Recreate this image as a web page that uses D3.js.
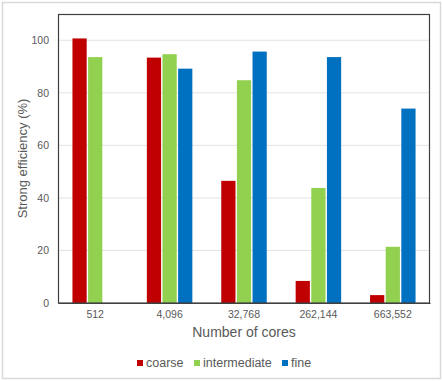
<!DOCTYPE html>
<html>
<head>
<meta charset="utf-8">
<script src="https://cdn.jsdelivr.net/npm/d3@7"></script>
<style>
	body { margin: 0; background: #fff; }
	text { font-family: 'Liberation Sans', Arial, sans-serif; fill: #595959; }
</style>
</head>
<body>
<div id="chart"></div>
<script>
// Data
let cores = ['512', '4,096', '32,768', '262,144', '663,552'];
let series = ['coarse', 'intermediate', 'fine'];
let coarse = [100.7, 93.4, 46.5, 8.4, 3.0];
let intermediate = [93.6, 94.7, 84.8, 43.8, 21.4];
let fine = [null, 89.2, 95.7, 93.6, 74.0];
let yTicks = [0, 20, 40, 60, 80, 100];
let colors = ['#c00000', '#92d050', '#0070c0'];

let width = 443;
let height = 381;
let margin = {left: 58, right: 13, top: 14, bottom: 78};

let svg = d3.select('#chart')
	.append('svg')
	.attr('width', width)
	.attr('height', height);

// outer frame
svg.append('rect')
	.attr('x', 2.5)
	.attr('y', 2.5)
	.attr('width', width - 5)
	.attr('height', height - 5)
	.attr('fill', 'white')
	.attr('stroke', '#d9d9d9')
	.attr('stroke-width', 1.5);

let x = d3.scaleBand()
	.domain(cores)
	.range([margin.left, width - margin.right]);

let x1 = d3.scaleBand()
	.domain(series)
	.range([0, 45.5])
	.paddingInner(0.09);

let y = d3.scaleLinear()
	.domain([0, 110])
	.range([height - margin.bottom, margin.top]);

// gridlines
svg.append('g')
	.selectAll('line')
	.data(yTicks.filter(function(d){ return d > 0; }))
	.enter()
	.append('line')
	.attr('x1', margin.left)
	.attr('x2', width - margin.right)
	.attr('y1', function(d){ return y(d); })
	.attr('y2', function(d){ return y(d); })
	.attr('stroke', '#e3e3e3')
	.attr('stroke-width', 1);

// bars
let table = cores.map(function(c, i){
	return {core: c, values: [coarse[i], intermediate[i], fine[i]]};
});

let groups = svg.append('g')
	.selectAll('g')
	.data(table)
	.enter()
	.append('g')
	.attr('transform', function(d){
		return 'translate(' + (x(d.core) + (x.bandwidth() - 45.5) / 2) + ',0)';
	});

groups.selectAll('rect')
	.data(function(d){
		return d.values.map(function(v, j){ return {s: series[j], v: v, j: j}; })
			.filter(function(e){ return e.v !== null; });
	})
	.enter()
	.append('rect')
	.attr('x', function(d){ return x1(d.s); })
	.attr('width', x1.bandwidth())
	.attr('y', function(d){ return y(d.v); })
	.attr('height', function(d){ return y(0) - y(d.v); })
	.attr('fill', function(d){ return colors[d.j]; });

// plot frame
svg.append('rect')
	.attr('x', margin.left + 0.5)
	.attr('y', margin.top + 0.5)
	.attr('width', width - margin.left - margin.right - 1)
	.attr('height', height - margin.top - margin.bottom - 0.5)
	.attr('fill', 'none')
	.attr('stroke', '#404040')
	.attr('stroke-width', 1.2);

// axes
let yAxis = svg.append('g')
	.attr('transform', 'translate(' + margin.left + ',0)')
	.call(d3.axisLeft(y).tickValues(yTicks).tickSize(0).tickPadding(9));
yAxis.select('.domain').remove();
yAxis.selectAll('text').attr('font-size', 10.5).style('font-family', "'Liberation Sans', Arial, sans-serif");

let xAxis = svg.append('g')
	.attr('transform', 'translate(0,' + (height - margin.bottom) + ')')
	.call(d3.axisBottom(x).tickSize(0).tickPadding(8));
xAxis.select('.domain').attr('stroke', '#404040').attr('stroke-width', 1.2);
xAxis.selectAll('text').attr('font-size', 10.5).style('font-family', "'Liberation Sans', Arial, sans-serif");

// axis titles
svg.append('text')
	.text('Number of cores')
	.attr('x', (margin.left + width - margin.right) / 2)
	.attr('y', 337)
	.attr('text-anchor', 'middle')
	.attr('font-size', 14);

svg.append('text')
	.text('Strong efficiency (%)')
	.attr('transform', 'translate(27,' + (margin.top + height - margin.bottom) / 2 + ') rotate(-90)')
	.attr('text-anchor', 'middle')
	.attr('font-size', 13);

// legend
let legendX = [137, 194, 282];
let legend = svg.append('g');
series.forEach(function(s, i){
	legend.append('rect')
		.attr('x', legendX[i])
		.attr('y', 360)
		.attr('width', 6)
		.attr('height', 6)
		.attr('fill', colors[i]);
	legend.append('text')
		.text(s)
		.attr('x', legendX[i] + 9)
		.attr('y', 367)
		.attr('font-size', 12.5);
});
</script>
</body>
</html>
